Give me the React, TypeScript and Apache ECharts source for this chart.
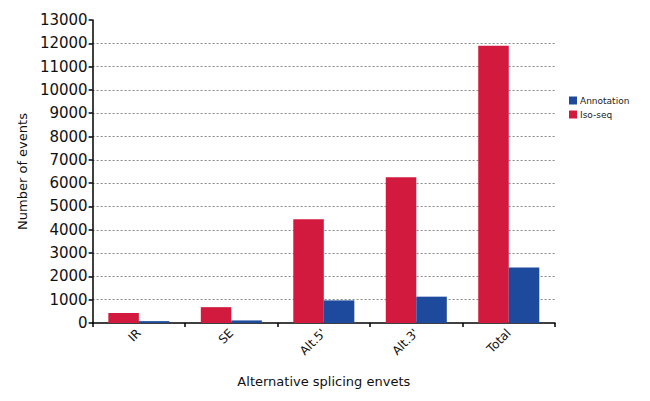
import React, { useEffect, useRef } from "react";
import * as echarts from "echarts";

const categories = ["IR", "SE", "Alt.5'", "Alt.3'", "Total"];
const isoSeq = [430, 680, 4450, 6250, 11900];
const annotation = [80, 110, 970, 1130, 2380];
const yMax = 13000;
const yInterval = 1000;

const gridColors: string[] = [];
for (let v = 0; v <= yMax; v += yInterval) {
  gridColors.push(v === 0 || v === yMax ? "rgba(0,0,0,0)" : "#8a8a8a");
}

export default function App() {
  const ref = useRef<HTMLDivElement>(null);
  useEffect(() => {
    if (!ref.current) return;
    const chart = echarts.init(ref.current, null, { renderer: "svg" });
    const font = "DejaVu Sans";
    chart.setOption({
      animation: false,
      textStyle: { fontFamily: font },
      grid: { left: 84, right: 87, top: 12, bottom: 67, containLabel: false },
      legend: {
        orient: "vertical",
        left: 556,
        top: 83,
        itemWidth: 8,
        itemHeight: 8,
        itemGap: 5,
        icon: "rect",
        textStyle: { fontSize: 9, color: "#222", fontFamily: font, padding: [0, 0, 0, -2] },
        data: ["Annotation", "Iso-seq"],
      },
      xAxis: {
        type: "category",
        data: categories,
        name: "Alternative splicing envets",
        nameLocation: "middle",
        nameGap: 52,
        nameTextStyle: { fontSize: 13, color: "#111", fontFamily: font },
        axisLine: { lineStyle: { color: "#000", width: 1.5 } },
        axisTick: { show: true, alignWithLabel: false, length: 4, lineStyle: { color: "#000", width: 1.5 } },
        axisLabel: { rotate: 45, fontSize: 12, color: "#111", margin: 8, fontFamily: font },
      },
      yAxis: {
        type: "value",
        min: 0,
        max: yMax,
        interval: yInterval,
        name: "Number of events",
        nameLocation: "middle",
        nameGap: 57,
        nameTextStyle: { fontSize: 13, color: "#111", fontFamily: font },
        axisLine: { show: true, lineStyle: { color: "#000", width: 1.5 } },
        axisTick: { show: true, length: 4, lineStyle: { color: "#000", width: 1.5 } },
        axisLabel: {
          fontSize: 15,
          color: "#111",
          margin: 5,
          fontFamily: font,
          formatter: (v: number) => String(v),
        },
        splitLine: { show: true, lineStyle: { color: gridColors, type: [2, 2], width: 1 } },
      },
      series: [
        {
          name: "Iso-seq",
          type: "bar",
          data: isoSeq,
          itemStyle: { color: "#d21a3e" },
          barGap: "0%",
          barCategoryGap: "34%",
        },
        {
          name: "Annotation",
          type: "bar",
          data: annotation,
          itemStyle: { color: "#1d4a9c" },
          barGap: "0%",
          barCategoryGap: "34%",
        },
      ],
    });
    return () => chart.dispose();
  }, []);
  return <div ref={ref} style={{ width: 634, height: 385 }} />;
}
